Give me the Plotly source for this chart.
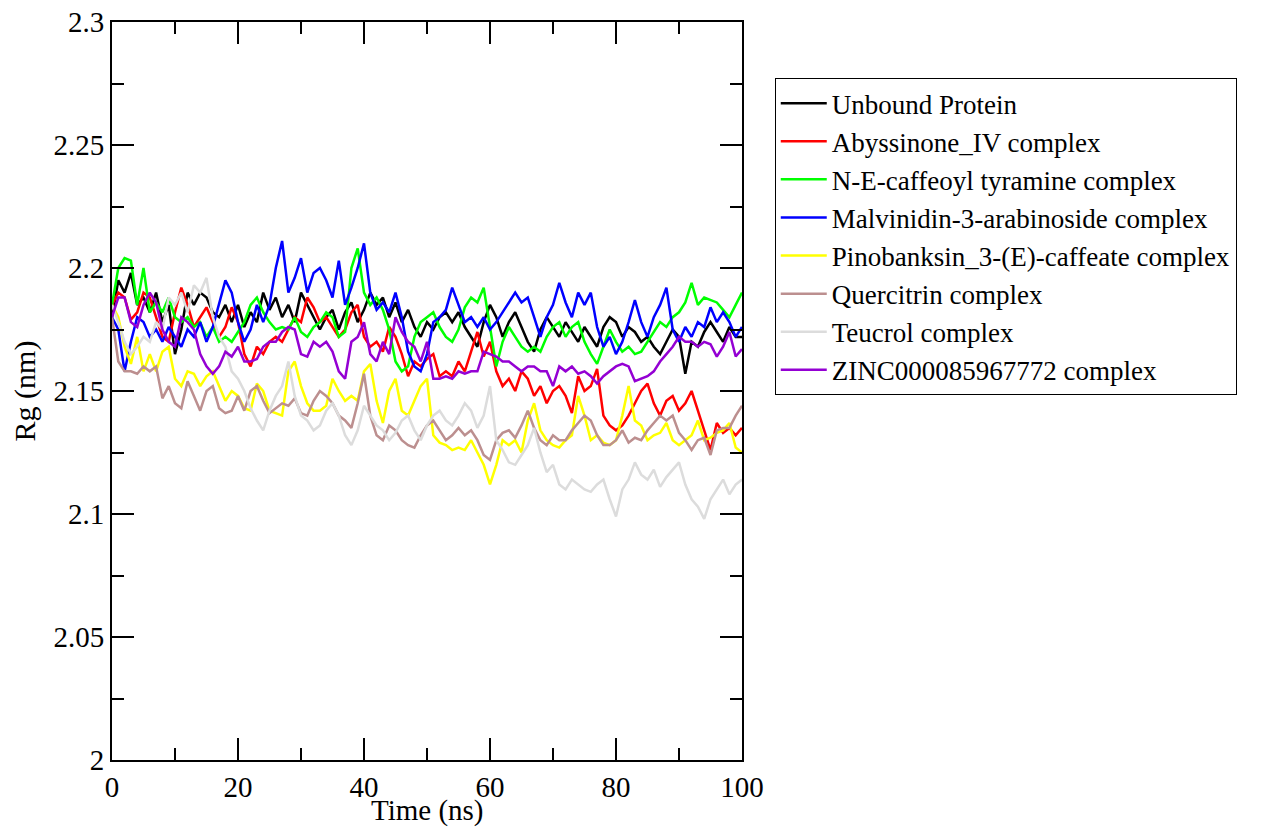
import plotly.graph_objects as go

time_ns = list(range(0, 101))

unbound = [2.180, 2.195, 2.190, 2.198, 2.185, 2.188, 2.182, 2.190, 2.178, 2.185,
           2.165, 2.175, 2.190, 2.185, 2.190, 2.188, 2.182, 2.180, 2.185, 2.178,
           2.185, 2.176, 2.182, 2.178, 2.190, 2.183, 2.188, 2.180, 2.185, 2.178,
           2.190, 2.185, 2.180, 2.175, 2.180, 2.183, 2.175, 2.182, 2.186, 2.178,
           2.183, 2.190, 2.185, 2.188, 2.180, 2.186, 2.178, 2.183, 2.176, 2.172,
           2.178, 2.175, 2.180, 2.182, 2.178, 2.182, 2.176, 2.172, 2.168, 2.178,
           2.185, 2.180, 2.172, 2.178, 2.182, 2.176, 2.170, 2.166, 2.175, 2.180,
           2.176, 2.172, 2.178, 2.174, 2.170, 2.176, 2.172, 2.168, 2.176, 2.180,
           2.178, 2.172, 2.176, 2.174, 2.170, 2.172, 2.168, 2.165, 2.170, 2.175,
           2.172, 2.157, 2.170, 2.168, 2.174, 2.178, 2.174, 2.170, 2.176, 2.172,
           2.172]

abyssinone = [2.185, 2.190, 2.188, 2.179, 2.182, 2.190, 2.188, 2.180, 2.172, 2.170,
              2.182, 2.192, 2.185, 2.176, 2.180, 2.184, 2.178, 2.172, 2.176, 2.184,
              2.178, 2.165, 2.160, 2.168, 2.165, 2.170, 2.172, 2.170, 2.175, 2.180,
              2.178, 2.188, 2.184, 2.178, 2.180, 2.176, 2.172, 2.175, 2.182, 2.185,
              2.172, 2.168, 2.170, 2.166, 2.176, 2.172, 2.165, 2.156, 2.162, 2.160,
              2.163, 2.165, 2.156, 2.158, 2.156, 2.162, 2.158, 2.166, 2.174, 2.164,
              2.170, 2.158, 2.152, 2.155, 2.150, 2.158, 2.155, 2.148, 2.152, 2.145,
              2.150, 2.152, 2.148, 2.141, 2.156, 2.150, 2.152, 2.159, 2.140, 2.136,
              2.134, 2.136, 2.140, 2.145, 2.150, 2.153, 2.145, 2.140, 2.146, 2.148,
              2.142, 2.145, 2.150, 2.142, 2.134, 2.126, 2.137, 2.133, 2.135, 2.132,
              2.135]

caffeoyl = [2.185, 2.200, 2.204, 2.203, 2.185, 2.200, 2.182, 2.186, 2.182, 2.188,
            2.180, 2.178, 2.180, 2.176, 2.178, 2.172, 2.176, 2.170, 2.172, 2.170,
            2.174, 2.178, 2.185, 2.188, 2.182, 2.178, 2.175, 2.176, 2.175, 2.180,
            2.174, 2.172, 2.176, 2.178, 2.182, 2.180, 2.172, 2.174, 2.200, 2.208,
            2.190, 2.185, 2.188, 2.183, 2.175, 2.162, 2.158, 2.160, 2.172, 2.178,
            2.180, 2.182, 2.176, 2.172, 2.170, 2.175, 2.184, 2.188, 2.186, 2.192,
            2.176, 2.160, 2.170, 2.176, 2.172, 2.168, 2.166, 2.168, 2.166, 2.172,
            2.176, 2.178, 2.172, 2.176, 2.178, 2.170, 2.165, 2.161, 2.168, 2.175,
            2.170, 2.166, 2.168, 2.165, 2.166, 2.170, 2.174, 2.178, 2.176, 2.180,
            2.182, 2.186, 2.194, 2.185, 2.188, 2.187, 2.186, 2.183, 2.180, 2.185,
            2.190]

malvinidin = [2.180, 2.175, 2.158, 2.170, 2.180, 2.178, 2.172, 2.175, 2.170, 2.176,
              2.172, 2.168, 2.175, 2.172, 2.178, 2.170, 2.176, 2.185, 2.195, 2.190,
              2.178, 2.170, 2.175, 2.185, 2.178, 2.185, 2.200, 2.211, 2.190, 2.196,
              2.204, 2.190, 2.198, 2.200, 2.195, 2.188, 2.203, 2.185, 2.192, 2.200,
              2.210, 2.190, 2.183, 2.186, 2.182, 2.190, 2.180, 2.166, 2.160, 2.158,
              2.165, 2.178, 2.180, 2.183, 2.192, 2.185, 2.178, 2.180, 2.176, 2.180,
              2.175, 2.178, 2.182, 2.186, 2.190, 2.186, 2.188, 2.180, 2.172, 2.180,
              2.185, 2.194, 2.186, 2.180, 2.190, 2.185, 2.190, 2.176, 2.168, 2.172,
              2.165, 2.170, 2.178, 2.187, 2.178, 2.172, 2.180, 2.185, 2.192, 2.175,
              2.170, 2.176, 2.172, 2.178, 2.176, 2.184, 2.178, 2.182, 2.178, 2.172,
              2.176]

pinobanksin = [2.185, 2.180, 2.168, 2.161, 2.172, 2.158, 2.165, 2.158, 2.166, 2.168,
               2.155, 2.152, 2.158, 2.157, 2.152, 2.156, 2.158, 2.152, 2.146, 2.150,
               2.148, 2.143, 2.142, 2.153, 2.150, 2.142, 2.141, 2.140, 2.158, 2.162,
               2.152, 2.145, 2.142, 2.142, 2.144, 2.155, 2.150, 2.146, 2.148, 2.146,
               2.158, 2.161, 2.146, 2.137, 2.150, 2.155, 2.142, 2.140, 2.146, 2.152,
               2.155, 2.132, 2.129, 2.128, 2.126, 2.127, 2.126, 2.130, 2.125, 2.120,
               2.112, 2.120, 2.130, 2.128, 2.130, 2.125, 2.138, 2.145, 2.134, 2.130,
               2.128, 2.127, 2.130, 2.132, 2.148, 2.140, 2.130, 2.132, 2.129, 2.128,
               2.130, 2.140, 2.152, 2.138, 2.136, 2.130, 2.132, 2.133, 2.137, 2.130,
               2.128, 2.130, 2.132, 2.138, 2.130, 2.131, 2.133, 2.134, 2.137, 2.127,
               2.125]

quercitrin = [2.180, 2.162, 2.158, 2.158, 2.157, 2.160, 2.158, 2.160, 2.147, 2.152,
              2.145, 2.143, 2.154, 2.148, 2.142, 2.150, 2.152, 2.143, 2.141, 2.142,
              2.148, 2.142, 2.150, 2.152, 2.146, 2.141, 2.143, 2.145, 2.144, 2.147,
              2.141, 2.140, 2.146, 2.150, 2.148, 2.145, 2.140, 2.138, 2.135, 2.145,
              2.157, 2.140, 2.132, 2.130, 2.136, 2.134, 2.130, 2.128, 2.127, 2.132,
              2.136, 2.138, 2.134, 2.130, 2.132, 2.135, 2.132, 2.134, 2.130, 2.124,
              2.122, 2.130, 2.133, 2.134, 2.131, 2.136, 2.142, 2.135, 2.130, 2.128,
              2.132, 2.130, 2.130, 2.134, 2.137, 2.140, 2.138, 2.132, 2.128, 2.128,
              2.130, 2.134, 2.129, 2.131, 2.130, 2.134, 2.137, 2.140, 2.138, 2.140,
              2.133, 2.130, 2.126, 2.130, 2.131, 2.124, 2.134, 2.135, 2.135, 2.140,
              2.144]

teucrol = [2.185, 2.178, 2.170, 2.165, 2.168, 2.172, 2.170, 2.178, 2.175, 2.188,
           2.185, 2.190, 2.182, 2.193, 2.190, 2.196, 2.180, 2.172, 2.168, 2.158,
           2.155, 2.150, 2.143, 2.138, 2.134, 2.142, 2.148, 2.152, 2.162, 2.148,
           2.140, 2.138, 2.134, 2.136, 2.142, 2.145, 2.140, 2.132, 2.128, 2.134,
           2.144, 2.140, 2.136, 2.134, 2.130, 2.133, 2.138, 2.140, 2.134, 2.130,
           2.136, 2.140, 2.142, 2.138, 2.136, 2.140, 2.145, 2.142, 2.135, 2.140,
           2.152, 2.130, 2.126, 2.121, 2.120, 2.124, 2.128, 2.135, 2.125, 2.117,
           2.120, 2.112, 2.110, 2.114, 2.112, 2.110, 2.109, 2.112, 2.114, 2.106,
           2.099, 2.110, 2.114, 2.121, 2.116, 2.114, 2.118, 2.111, 2.115, 2.118,
           2.121, 2.112, 2.106, 2.103, 2.098, 2.106, 2.110, 2.114, 2.108, 2.112,
           2.114]

zinc = [2.180, 2.188, 2.188, 2.178, 2.176, 2.185, 2.190, 2.186, 2.175, 2.170,
        2.168, 2.180, 2.178, 2.175, 2.165, 2.160, 2.157, 2.160, 2.166, 2.164,
        2.168, 2.162, 2.162, 2.163, 2.168, 2.170, 2.170, 2.174, 2.176, 2.175,
        2.165, 2.164, 2.170, 2.168, 2.170, 2.166, 2.158, 2.155, 2.170, 2.172,
        2.178, 2.165, 2.162, 2.170, 2.165, 2.180, 2.174, 2.170, 2.168, 2.162,
        2.170, 2.155, 2.155, 2.156, 2.155, 2.158, 2.157, 2.158, 2.158, 2.166,
        2.165, 2.164, 2.162, 2.162, 2.160, 2.158, 2.160, 2.160, 2.158, 2.158,
        2.152, 2.160, 2.158, 2.160, 2.157, 2.158, 2.156, 2.153, 2.156, 2.158,
        2.160, 2.161, 2.160, 2.154, 2.155, 2.156, 2.158, 2.162, 2.165, 2.168,
        2.172, 2.170, 2.170, 2.168, 2.170, 2.169, 2.164, 2.168, 2.174, 2.164,
        2.167]

series_names = ["Unbound Protein", "Abyssinone_IV complex", "N-E-caffeoyl tyramine complex",
                "Malvinidin-3-arabinoside complex", "Pinobanksin_3-(E)-caffeate complex",
                "Quercitrin complex", "Teucrol complex", "ZINC000085967772 complex"]
series_values = [unbound, abyssinone, caffeoyl, malvinidin, pinobanksin,
                 quercitrin, teucrol, zinc]
series_colors = ["#000000", "#FF0000", "#00FF00", "#0000FF", "#FFFF00",
                 "rgb(188,143,143)", "rgb(220,220,220)", "rgb(148,0,211)"]

x_ticks = [0, 20, 40, 60, 80, 100]
x_ticklabels = ["0", "20", "40", "60", "80", "100"]
y_ticks = [2.0, 2.05, 2.1, 2.15, 2.2, 2.25, 2.3]
y_ticklabels = ["2", "2.05", "2.1", "2.15", "2.2", "2.25", "2.3"]
x_title = "Time (ns)"
y_title = "Rg (nm)"

fig = go.Figure()
for name, vals, col in zip(series_names, series_values, series_colors):
    fig.add_trace(go.Scatter(x=time_ns, y=vals, mode="lines", name=name,
                             line=dict(color=col, width=2.5)))

font_family = "Liberation Serif, Times New Roman, serif"
axis_common = dict(showline=True, linecolor="black", linewidth=2, mirror="ticks",
                   ticks="inside", ticklen=22, tickwidth=2, tickcolor="black",
                   showgrid=False, zeroline=False, automargin=False,
                   ticklabeloverflow="allow",
                   tickfont=dict(family=font_family, size=29, color="black"))

fig.update_layout(
    width=1261, height=819,
    margin=dict(l=104, r=527, t=14, b=67),
    paper_bgcolor="white", plot_bgcolor="white",
    font=dict(family=font_family, size=29, color="black"),
    showlegend=True,
    legend=dict(x=1.052, y=0.924, xanchor="left", yanchor="top",
                bordercolor="black", borderwidth=1, bgcolor="white",
                font=dict(family=font_family, size=27, color="black"),
                itemwidth=46, entrywidth=420, entrywidthmode="pixels"),
    xaxis=dict(range=[0, 100], tickmode="array", tickvals=x_ticks, ticktext=x_ticklabels,
               minor=dict(dtick=10, tick0=0, ticklen=12, tickwidth=2, tickcolor="black", ticks="inside"),
               **axis_common),
    yaxis=dict(range=[2.0, 2.3], tickmode="array", tickvals=y_ticks, ticktext=y_ticklabels,
               minor=dict(dtick=0.025, tick0=2.0, ticklen=12, tickwidth=2, tickcolor="black", ticks="inside"),
               title=dict(text=y_title, standoff=10,
                          font=dict(family=font_family, size=30, color="black")),
               **axis_common),
    annotations=[dict(text=x_title, xref="paper", yref="paper", x=0.5, y=0,
                      xanchor="center", yanchor="middle", yshift=-50, showarrow=False,
                      font=dict(family=font_family, size=29, color="black"))],
)

fig.write_html("out.html")
